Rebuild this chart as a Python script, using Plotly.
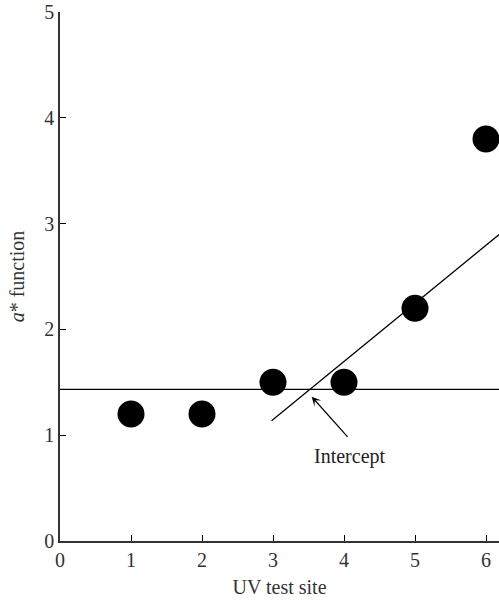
import plotly.graph_objects as go

site = [1, 2, 3, 4, 5, 6]
a_star = [1.2, 1.2, 1.5, 1.5, 2.2, 3.8]
flat_x = [0, 6.2]
flat_y = [1.434, 1.434]
slope_x = [2.98, 6.2]
slope_y = [1.137, 2.905]
intercept_xy = (3.545, 1.364)
label_xy = (4.08, 0.8)

font = dict(family="Liberation Serif, Times New Roman, serif", size=20, color="#333333")

fig = go.Figure()
fig.add_trace(go.Scatter(x=flat_x, y=flat_y, mode="lines", line=dict(color="black", width=1.3)))
fig.add_trace(go.Scatter(x=slope_x, y=slope_y, mode="lines", line=dict(color="black", width=1.3)))
fig.add_trace(go.Scatter(x=site, y=a_star, mode="markers",
                         marker=dict(color="black", size=27, line=dict(width=0))))

fig.add_annotation(x=intercept_xy[0], y=intercept_xy[1], ax=4.07, ay=0.97,
                   xref="x", yref="y", axref="x", ayref="y",
                   showarrow=True, arrowhead=3, arrowsize=1.3, arrowwidth=1.2,
                   arrowcolor="black", text="")
fig.add_annotation(x=label_xy[0], y=label_xy[1], xref="x", yref="y", text="Intercept",
                   showarrow=False, font=dict(family=font["family"], size=20, color="#222222"))

fig.update_layout(
    width=499, height=600,
    margin=dict(l=60, r=0, t=12, b=59),
    plot_bgcolor="white", paper_bgcolor="white",
    showlegend=False,
    font=font,
)
fig.update_xaxes(range=[0, 6.183], tickvals=[0, 1, 2, 3, 4, 5, 6], ticks="inside", ticklen=6,
                 tickcolor="black", showline=True, linecolor="#333333", linewidth=1.5,
                 showgrid=False, zeroline=False, tickfont=dict(size=20),
                 title=dict(text="UV test site", font=dict(size=20), standoff=10))
fig.update_yaxes(range=[0, 5], tickvals=[0, 1, 2, 3, 4, 5], ticks="inside", ticklen=6,
                 tickcolor="black", showline=True, linecolor="#333333", linewidth=1.5,
                 showgrid=False, zeroline=False, tickfont=dict(size=20),
                 title=dict(text="<i>a</i>* function", font=dict(size=20), standoff=14))

fig.write_html("out.html")
